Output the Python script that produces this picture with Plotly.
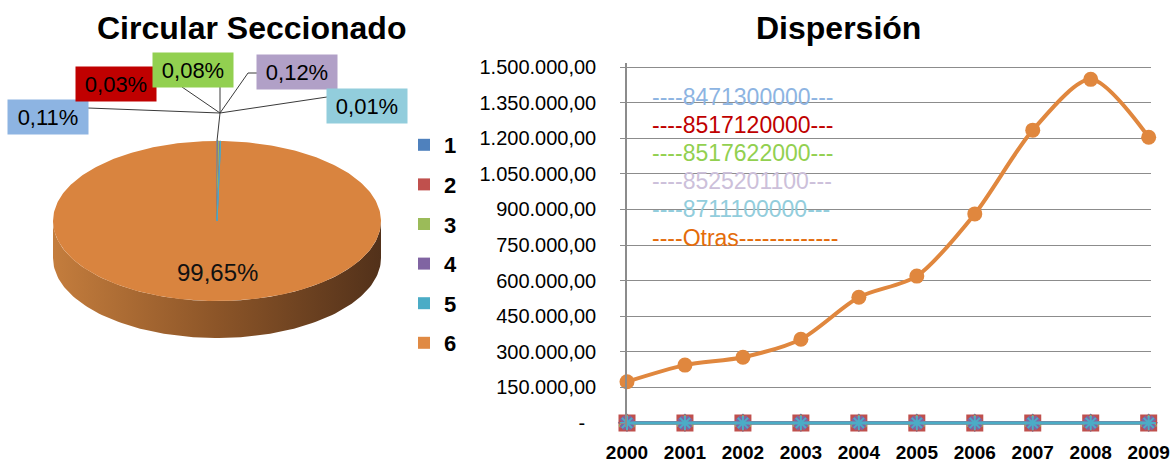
import numpy as np
import plotly.graph_objects as go

# ---------------- data ----------------
pie_labels = ["1", "2", "3", "4", "5", "6"]
pie_pct = [0.11, 0.03, 0.08, 0.12, 0.01, 99.65]
pie_text = ["0,11%", "0,03%", "0,08%", "0,12%", "0,01%", "99,65%"]

years = [2000, 2001, 2002, 2003, 2004, 2005, 2006, 2007, 2008, 2009]
s_8471300000 = [900, 1100, 800, 700, 1000, 900, 800, 700, 800, 900]
s_8517120000 = [200, 300, 250, 200, 300, 250, 200, 250, 300, 200]
s_8517622000 = [500, 600, 700, 600, 500, 600, 700, 600, 500, 600]
s_8525201100 = [800, 900, 1000, 900, 800, 900, 1000, 900, 800, 900]
s_8711100000 = [100, 80, 60, 90, 70, 80, 60, 70, 90, 80]
s_otras = [174000, 244000, 277000, 353000, 530000, 619000, 881000, 1234000, 1448000, 1204000]

series_names = ["----8471300000---", "----8517120000---", "----8517622000---",
                "----8525201100---", "----8711100000---", "----Otras-------------"]

ytick_vals = [0, 150000, 300000, 450000, 600000, 750000, 900000,
              1050000, 1200000, 1350000, 1500000]
ytick_text = ["-\u00a0\u00a0", "150.000,00", "300.000,00", "450.000,00", "600.000,00",
              "750.000,00", "900.000,00", "1.050.000,00", "1.200.000,00",
              "1.350.000,00", "1.500.000,00"]

# ---------------- styles ----------------
W, H = 1173, 466
FONT = "Liberation Sans, Arial, sans-serif"
pie_colors = ["#4F81BD", "#C0504D", "#9BBB59", "#8064A2", "#4BACC6", "#D9843F"]
legend_colors = ["#4F81BD", "#C0504D", "#9BBB59", "#8064A2", "#4BACC6", "#E08A44"]
label_bg = ["#8DB4E2", "#C00000", "#92D050", "#B1A0C7", "#92CDDC"]
line_colors = ["#4F81BD", "#C0504D", "#9BBB59", "#8064A2", "#4BACC6", "#E0873E"]
legend_text_colors = ["#8DB4E2", "#C00000", "#92D050", "#CCC0DA", "#92CDDC", "#E46C0A"]
markers = ["diamond", "square", "triangle-up", "x", "asterisk-open"]
marker_sizes = [12, 15, 13, 11, 12]

# pie geometry (pixel-like coordinates on a hidden axis)
CX, CY, RX, RY, DEPTH = 217, 221, 164, 80, 37


def ell(theta_deg, dy=0.0):
    t = np.radians(theta_deg)
    return CX + RX * np.sin(t), CY - RY * np.cos(t) + dy


fig = go.Figure()

# side of the 3D pie (front half, belongs to the large slice)
th = np.linspace(90, 270, 120)
xs_top, ys_top = ell(th)
xs_bot, ys_bot = ell(th[::-1], DEPTH)
fig.add_trace(go.Scatter(
    x=np.concatenate([xs_top, xs_bot]), y=np.concatenate([ys_top, ys_bot]),
    fill="toself", mode="lines", line=dict(width=0),
    fillgradient=dict(type="horizontal",
                      colorscale=[[0, "#C47D3D"], [0.5, "#8C5528"], [1, "#52311A"]]),
    hoverinfo="skip", showlegend=False, xaxis="x", yaxis="y"))

# top faces of slices, from the percentages (clockwise from 12 o'clock)
total = sum(pie_pct)
start = 0.0
order = [5, 0, 1, 2, 3, 4]  # draw big slice first, small ones on top
angles = []
for v in pie_pct:
    a0 = start
    a1 = start + 360.0 * v / total
    angles.append((a0, a1))
    start = a1
for i in order:
    a0, a1 = angles[i]
    n = max(3, int((a1 - a0) / 1.0) + 2)
    tt = np.linspace(a0, a1, n)
    ax_, ay_ = ell(tt)
    px = np.concatenate([[CX], ax_, [CX]])
    py = np.concatenate([[CY], ay_, [CY]])
    fig.add_trace(go.Scatter(
        x=px, y=py, fill="toself", mode="lines",
        line=dict(width=0 if i == 5 else 1, color=pie_colors[i]),
        fillcolor=pie_colors[i], hoverinfo="skip", showlegend=False,
        xaxis="x", yaxis="y"))

# legend entries for the pie
for i, lab in enumerate(pie_labels):
    fig.add_trace(go.Scatter(
        x=[None], y=[None], mode="markers", name=lab, legendgroup=lab,
        marker=dict(symbol="square", size=12, color=legend_colors[i]),
        xaxis="x", yaxis="y"))

# ---------------- line chart ----------------
small_series = [s_8471300000, s_8517120000, s_8517622000, s_8525201100, s_8711100000]
for i, s in enumerate(small_series):
    fig.add_trace(go.Scatter(
        x=years, y=s, mode="lines+markers", name=series_names[i],
        line=dict(color=line_colors[i], width=3),
        marker=dict(symbol=markers[i], size=marker_sizes[i], color=line_colors[i],
                    line=dict(width=2, color=line_colors[i])),
        cliponaxis=False, showlegend=False, xaxis="x2", yaxis="y2"))
fig.add_trace(go.Scatter(
    x=years, y=s_otras, mode="lines+markers", name=series_names[5],
    line=dict(color=line_colors[5], width=4, shape="spline", smoothing=0.8),
    marker=dict(symbol="circle", size=15, color=line_colors[5]),
    cliponaxis=False, showlegend=False, xaxis="x2", yaxis="y2"))

# axis placement in pixels
PLOT_L, PLOT_R = 627, 1151
Y0_PX, STEP_PX = 423, 35.6  # pixel of value 0, pixels per 150 000
Y_LO, Y_HI = -15000, 1515000
px_per_unit = STEP_PX / 150000
bot_px = Y0_PX + (0 - Y_LO) * px_per_unit
top_px = Y0_PX - (Y_HI - 0) * px_per_unit

annotations = []
# titles
annotations.append(dict(text="<b>Circular Seccionado</b>", x=251 / W, y=1 - 28 / H,
                        xref="paper", yref="paper", showarrow=False,
                        xanchor="center", yanchor="middle",
                        font=dict(family=FONT, size=32, color="#000000")))
annotations.append(dict(text="<b>Dispersión</b>", x=838 / W, y=1 - 28 / H,
                        xref="paper", yref="paper", showarrow=False,
                        xanchor="center", yanchor="middle",
                        font=dict(family=FONT, size=32, color="#000000")))
# pie data labels
label_pos = [(48, 117), (115.5, 83.5), (192.5, 70), (297, 71.5), (366.5, 105.5)]
for i in range(5):
    annotations.append(dict(text=pie_text[i], x=label_pos[i][0], y=label_pos[i][1],
                            xref="x", yref="y", showarrow=False,
                            xanchor="center", yanchor="middle",
                            bgcolor=label_bg[i], width=80, height=34, borderpad=0,
                            font=dict(family=FONT, size=22, color="#000000")))
annotations.append(dict(text=pie_text[5], x=CX, y=272, xref="x", yref="y",
                        showarrow=False, xanchor="center", yanchor="middle",
                        font=dict(family=FONT, size=24, color="#111111")))
# line chart legend (text only)
leg_y = [97, 125, 153, 181, 209, 238]
for i in range(6):
    annotations.append(dict(text=series_names[i], x=650 / W, y=1 - leg_y[i] / H,
                            xref="paper", yref="paper", xanchor="left", yanchor="middle",
                            showarrow=False,
                            font=dict(family=FONT, size=23, color=legend_text_colors[i])))

shapes = []
# leader lines
hub = (220, 113)
for seg in [[(88, 108), hub], [(182, 87), hub], [(220, 87), hub],
            [(257, 73), (248, 73), hub], [(327, 97), hub], [hub, (217, 141)]]:
    path = "M " + " L ".join(f"{x},{y}" for x, y in seg)
    shapes.append(dict(type="path", path=path, xref="x", yref="y",
                       line=dict(color="#3A3A3A", width=1)))
# white legend box over gridlines
shapes.append(dict(type="rect", xref="paper", yref="paper", layer="between",
                   x0=633 / W, x1=867 / W, y0=1 - 262 / H, y1=1 - 78 / H,
                   fillcolor="white", line=dict(width=0)))

fig.update_layout(
    template="none",
    width=W, height=H, margin=dict(l=0, r=0, t=0, b=0, autoexpand=False),
    paper_bgcolor="white", plot_bgcolor="rgba(0,0,0,0)",
    font=dict(family=FONT, color="#000000"),
    showlegend=True,
    legend=dict(x=404 / W, y=1 - 124 / H, xanchor="left", yanchor="top",
                font=dict(family=FONT, size=22, color="#000000", weight="bold"),
                traceorder="grouped", tracegroupgap=8, bgcolor="rgba(0,0,0,0)",
                itemclick=False, itemdoubleclick=False),
    xaxis=dict(domain=[0, 0.4], range=[0, 0.4 * W], visible=False, fixedrange=True,
               automargin=False),
    yaxis=dict(domain=[0, 1], range=[H, 0], visible=False, fixedrange=True,
               automargin=False),
    xaxis2=dict(domain=[PLOT_L / W, PLOT_R / W], range=[2000, 2009.04],
                anchor="y2", tickvals=years, ticktext=[str(y) for y in years],
                showgrid=False, zeroline=False, showline=False, ticks="",
                tickfont=dict(family=FONT, size=19, color="#000000", weight="bold"),
                ticklabelstandoff=12, fixedrange=True, automargin=False),
    yaxis2=dict(domain=[1 - bot_px / H, 1 - top_px / H], range=[Y_LO, Y_HI],
                anchor="x2", tickvals=ytick_vals, ticktext=ytick_text,
                showgrid=True, gridcolor="#8C8C8C", gridwidth=1.3,
                zeroline=True, zerolinecolor="#8C8C8C", zerolinewidth=1.3,
                showline=True, linecolor="#8C8C8C", linewidth=1.5,
                ticks="outside", ticklen=5, tickcolor="#8C8C8C",
                tickfont=dict(family=FONT, size=20, color="#000000"),
                ticklabelstandoff=20, fixedrange=True, automargin=False),
    annotations=annotations, shapes=shapes,
)

fig.write_html("out.html", config={"displayModeBar": False},
               post_script="document.body.style.margin='0';")
